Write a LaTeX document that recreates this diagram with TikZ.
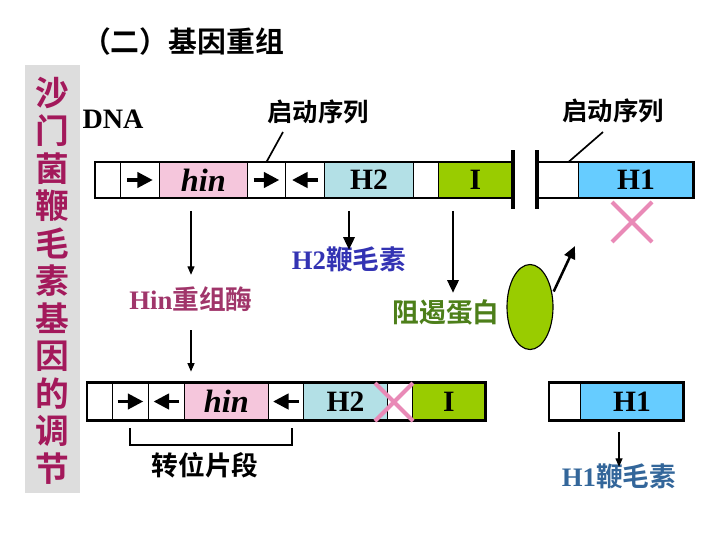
\documentclass[tikz,border=0pt]{standalone}
\usepackage{fontspec}
\setmainfont{Liberation Serif}
\newfontfamily\cjk{Noto Sans CJK SC}[BoldFont={Noto Sans CJK SC Bold}]
\usetikzlibrary{arrows.meta,shapes.geometric,positioning,calc}

\definecolor{hinpink}{HTML}{F5C6DC}
\definecolor{h2blue}{HTML}{B3E0E6}
\definecolor{igreen}{HTML}{99CC00}
\definecolor{h1blue}{HTML}{66CCFF}
\definecolor{bandgray}{HTML}{DDDDDD}
\definecolor{sideplum}{HTML}{A3195B}
\definecolor{enzplum}{HTML}{A0356A}
\definecolor{flagblue}{HTML}{3333B3}
\definecolor{repgreen}{HTML}{4D7F1A}
\definecolor{flagsteel}{HTML}{33669A}
\definecolor{crosspink}{HTML}{E98AB7}

\begin{document}
\begin{tikzpicture}[x=0.025cm, y=-0.025cm,
    cell/.style={draw, line width=0.6pt, inner sep=0pt, anchor=west,
        font=\fontsize{21}{21}\selectfont\bfseries},
    outer/.style={line width=2pt},
    bar/.style={line width=3pt},
    inarr/.style={line width=2.2pt, -{Triangle[length=11pt,width=11pt]}},
    thinarr/.style={line width=0.8pt, -{Triangle[length=6pt,width=5pt]}},
    thickarr/.style={line width=1.8pt, -{Triangle[length=9pt,width=8pt]}},
    cross/.style={draw=crosspink, line width=2.8pt},
    lbl/.style={inner sep=0pt, text height=14pt, text depth=3pt,
        font=\fontsize{19}{19}\selectfont\bfseries}]
    \useasboundingbox (0,0) rectangle (720,540);

    % title and side band
    \node[font=\cjk\fontsize{20.5}{20.5}\selectfont\bfseries] (title) at (183,42) {（二）基因重组};
    \fill[bandgray] (25,65) rectangle (80,493);
    \node[align=center, text=sideplum, font=\cjk\fontsize{24}{26.7}\selectfont\bfseries]
        (side) at (52.5,281) {沙\\门\\菌\\鞭\\毛\\素\\基\\因\\的\\调\\节};

    \node[font=\fontsize{20}{20}\selectfont\bfseries] (dna) at (113,119) {DNA};
    \node[font=\cjk\fontsize{18}{18}\selectfont\bfseries] (p1) at (318,112) {启动序列};
    \node[font=\cjk\fontsize{18}{18}\selectfont\bfseries] (p2) at (613,111) {启动序列};

    % upper DNA
    \foreach \i/\a/\b/\c/\t in {1/95/120/white/{}, 2/120/159/white/{},
            3/159/247/hinpink/{\itshape\fontsize{23}{23}\selectfont hin},
            4/247/285/white/{}, 5/285/324/white/{}, 6/324/413/h2blue/H2,
            7/413/438/white/{}, 8/438/512/igreen/I,
            9/537/578/white/{}, 10/578/693/h1blue/H1}
        \node[cell, fill=\c, minimum width={(\b-\a)*0.025cm}, minimum height=0.875cm] (t\i) at (\a,180) {\t};
    \foreach \n in {2,4}
        \draw[inarr] ([xshift=-0.32cm]t\n.center) -- ([xshift=0.32cm]t\n.center);
    \draw[inarr] ([xshift=0.32cm]t5.center) -- ([xshift=-0.32cm]t5.center);
    \draw[outer] (t1.north west) rectangle (t8.south east);
    \draw[outer] (t9.north west) rectangle (t10.south east);
    \draw[bar] ([yshift=0.3cm]t8.north east) -- ([yshift=-0.275cm]t8.south east);
    \draw[bar] ([yshift=0.3cm]t9.north west) -- ([yshift=-0.275cm]t9.south west);
    \draw[line width=1.2pt] ([shift={(-35,20)}]p1.center) -- (t4.north);
    \draw[line width=1.2pt] ([shift={(-10,21)}]p2.center) -- ($(t9.north)!0.5!(t9.north east)$);

    % products
    \node[lbl, text=enzplum] (enz) at (191,302) {Hin{\cjk 重组酶}};
    \node[lbl, text=flagblue] (h2p) at (349,262) {H2{\cjk 鞭毛素}};
    \node[lbl, text=repgreen] (rep) at (446,315) {{\cjk 阻遏蛋白}};
    \node[ellipse, draw, line width=0.8pt, fill=igreen, inner sep=0pt,
        minimum width=1.15cm, minimum height=2.125cm] (rp) at (530,307) {};
    \coordinate (iout) at ([xshift=0.375cm]t8.south west);
    \coordinate (rpend) at (575,246);
    \draw[thinarr, shorten <=0.325cm, shorten >=0.375cm] (enz.north |- t3.south) -- (enz.north);
    \draw[thickarr, shorten <=0.325cm] (h2p.north |- t6.south) -- (h2p.north);
    \draw[thickarr, shorten <=0.325cm, shorten >=0.25cm] (iout) -- (iout |- rep.north);
    \draw[thickarr, shorten <=2pt] (rp.30) -- (rpend);
    \coordinate (x1) at (632,222);
    \draw[cross] (x1) ++(-20,-20) -- ++(40,40);
    \draw[cross] (x1) ++(-20,20) -- ++(40,-40);

    % lower DNA after inversion
    \foreach \i/\a/\b/\c/\t in {1/87/112/white/{}, 2/112/148/white/{}, 3/148/184/white/{},
            4/184/268/hinpink/{\itshape\fontsize{23}{23}\selectfont hin},
            5/268/303/white/{}, 6/303/387/h2blue/H2, 7/387/412/white/{}, 8/412/485/igreen/I,
            9/549/580/white/{}, 10/580/683/h1blue/H1}
        \node[cell, fill=\c, minimum width={(\b-\a)*0.025cm}, minimum height=0.925cm] (b\i) at (\a,401.5) {\t};
    \draw[inarr] ([xshift=-0.32cm]b2.center) -- ([xshift=0.32cm]b2.center);
    \foreach \n in {3,5}
        \draw[inarr] ([xshift=0.32cm]b\n.center) -- ([xshift=-0.32cm]b\n.center);
    \draw[outer] (b1.north west) rectangle (b8.south east);
    \draw[outer] (b9.north west) rectangle (b10.south east);
    \draw[thinarr, shorten <=0.4cm, shorten >=0.275cm] (enz.south) -- (enz.south |- b4.north);
    \coordinate (x2) at (394,402);
    \draw[cross] (x2) ++(-19,-19) -- ++(38,38);
    \draw[cross] (x2) ++(-19,19) -- ++(38,-38);
    % transposable segment
    \node[font=\cjk\fontsize{19}{19}\selectfont\bfseries] (seg) at (205,465) {转位片段};
    \draw[line width=1.4pt] ([yshift=-0.2cm]b2.south) |- ([yshift=-0.625cm, xshift=0.15cm]b5.south)
        -- ([yshift=-0.2cm, xshift=0.15cm]b5.south);
    \node[lbl, text=flagsteel] (h1p) at (619,479) {H1{\cjk 鞭毛素}};
    \draw[thinarr, shorten <=0.3cm] (h1p.north |- b10.south) -- (h1p.north);
\end{tikzpicture}
\end{document}
